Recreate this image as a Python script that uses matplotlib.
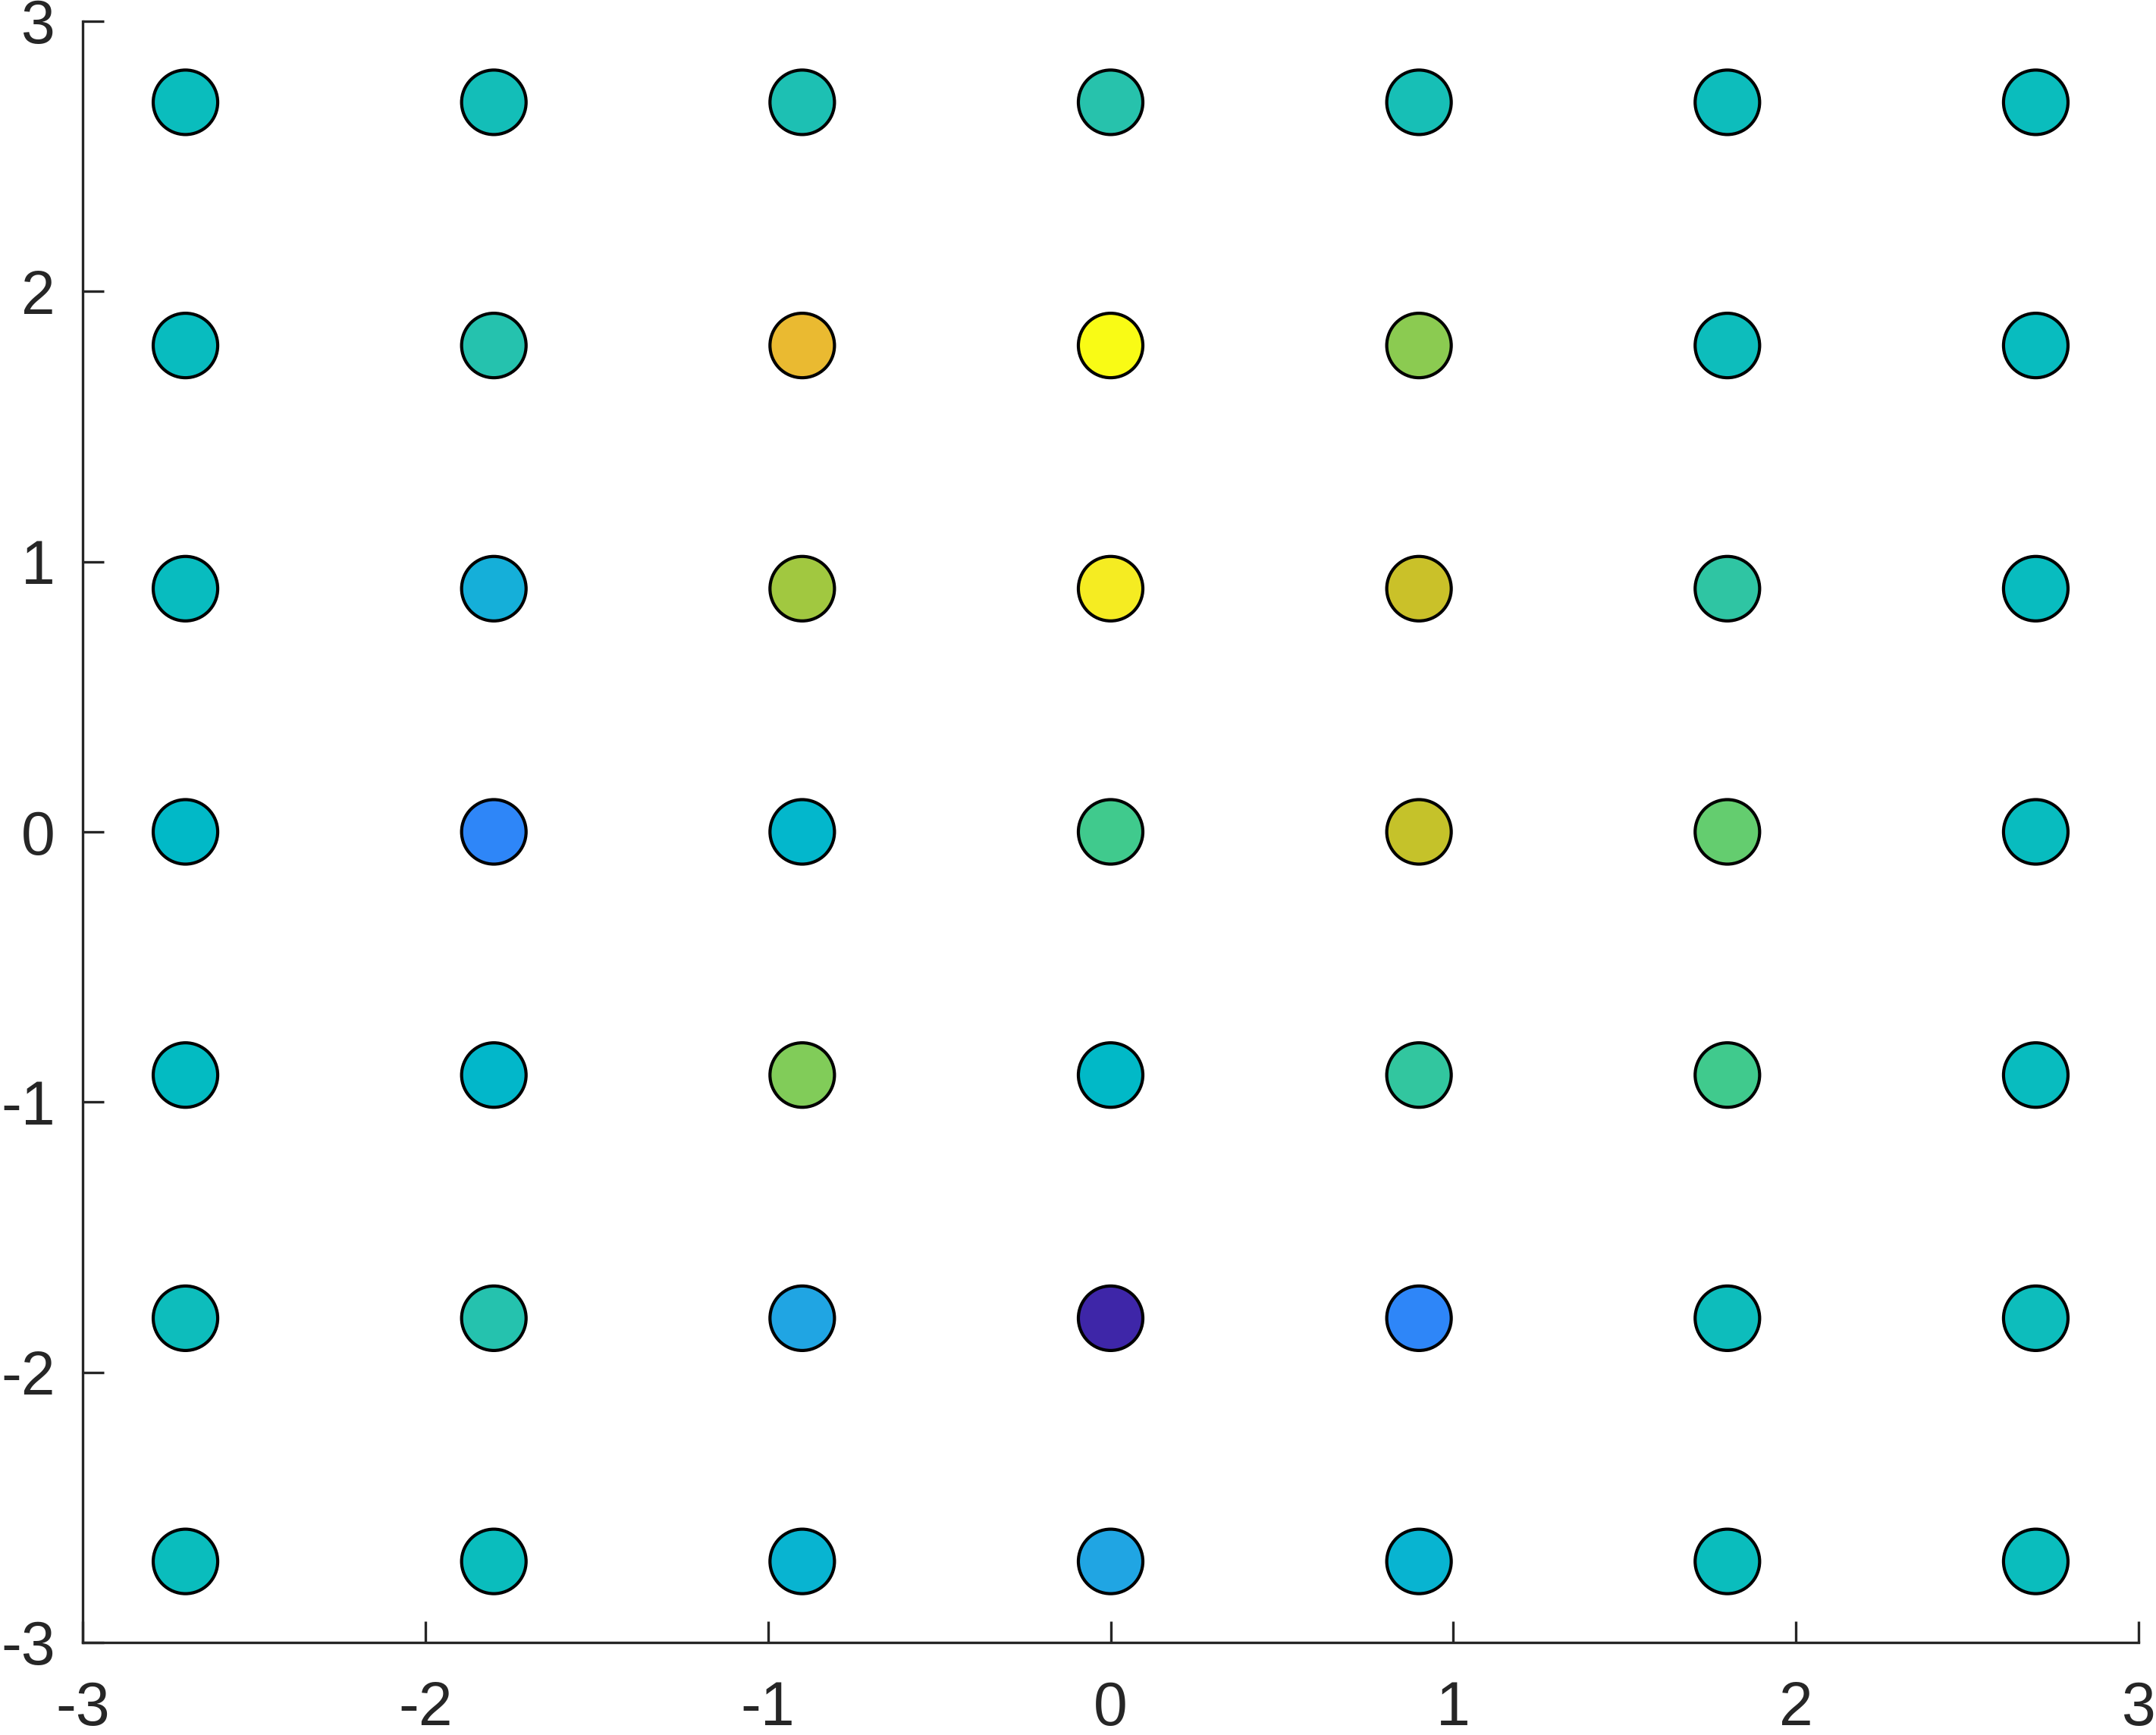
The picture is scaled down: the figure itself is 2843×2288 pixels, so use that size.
import matplotlib
matplotlib.use('Agg')
import matplotlib.pyplot as plt
import numpy as np
from matplotlib.colors import LinearSegmentedColormap

# MATLAB parula(64)
parula_64 = [
    [0.2422, 0.1504, 0.6603], [0.2504, 0.1650, 0.7076], [0.2578, 0.1818, 0.7511],
    [0.2647, 0.1978, 0.7952], [0.2706, 0.2147, 0.8364], [0.2751, 0.2342, 0.8710],
    [0.2783, 0.2559, 0.8991], [0.2803, 0.2782, 0.9221], [0.2813, 0.3006, 0.9414],
    [0.2810, 0.3228, 0.9579], [0.2795, 0.3447, 0.9717], [0.2760, 0.3667, 0.9829],
    [0.2699, 0.3892, 0.9906], [0.2602, 0.4123, 0.9952], [0.2440, 0.4358, 0.9988],
    [0.2206, 0.4603, 0.9973], [0.1963, 0.4847, 0.9892], [0.1834, 0.5074, 0.9798],
    [0.1786, 0.5289, 0.9682], [0.1764, 0.5499, 0.9520], [0.1687, 0.5703, 0.9359],
    [0.1540, 0.5902, 0.9218], [0.1460, 0.6091, 0.9079], [0.1380, 0.6276, 0.8973],
    [0.1248, 0.6459, 0.8883], [0.1113, 0.6635, 0.8763], [0.0952, 0.6798, 0.8598],
    [0.0689, 0.6948, 0.8394], [0.0297, 0.7082, 0.8163], [0.0036, 0.7203, 0.7917],
    [0.0067, 0.7312, 0.7660], [0.0433, 0.7411, 0.7394], [0.0964, 0.7500, 0.7120],
    [0.1408, 0.7584, 0.6842], [0.1717, 0.7670, 0.6554], [0.1938, 0.7758, 0.6251],
    [0.2161, 0.7843, 0.5923], [0.2470, 0.7918, 0.5567], [0.2906, 0.7973, 0.5188],
    [0.3406, 0.8008, 0.4789], [0.3909, 0.8029, 0.4354], [0.4456, 0.8024, 0.3909],
    [0.5044, 0.7993, 0.3480], [0.5616, 0.7942, 0.3045], [0.6174, 0.7876, 0.2612],
    [0.6720, 0.7793, 0.2227], [0.7242, 0.7698, 0.1910], [0.7738, 0.7598, 0.1646],
    [0.8203, 0.7498, 0.1535], [0.8634, 0.7406, 0.1596], [0.9035, 0.7330, 0.1774],
    [0.9393, 0.7288, 0.2100], [0.9728, 0.7298, 0.2394], [0.9956, 0.7434, 0.2371],
    [0.9970, 0.7659, 0.2199], [0.9952, 0.7893, 0.2028], [0.9892, 0.8136, 0.1885],
    [0.9786, 0.8386, 0.1766], [0.9676, 0.8639, 0.1643], [0.9610, 0.8890, 0.1537],
    [0.9597, 0.9135, 0.1423], [0.9628, 0.9373, 0.1265], [0.9691, 0.9606, 0.1064],
    [0.9769, 0.9839, 0.0805]]
parula = LinearSegmentedColormap.from_list('parula', parula_64, N=256)

# grid positions
x_vals = [-2.7, -1.8, -0.9, 0.0, 0.9, 1.8, 2.7]
y_vals = [2.7, 1.8, 0.9, 0.0, -0.9, -1.8, -2.7]

# values per row (top row first)
z_y27 = [0.49, 0.50, 0.515, 0.53, 0.505, 0.495, 0.49]
z_y18 = [0.485, 0.525, 0.80, 1.00, 0.677, 0.495, 0.485]
z_y09 = [0.485, 0.42, 0.703, 0.96, 0.75, 0.548, 0.485]
z_y00 = [0.465, 0.283, 0.455, 0.587, 0.745, 0.635, 0.485]
z_ym09 = [0.48, 0.46, 0.667, 0.465, 0.555, 0.587, 0.485]
z_ym18 = [0.495, 0.525, 0.38, 0.0, 0.283, 0.495, 0.495]
z_ym27 = [0.49, 0.49, 0.445, 0.38, 0.445, 0.49, 0.49]

z_rows = [z_y27, z_y18, z_y09, z_y00, z_ym09, z_ym18, z_ym27]
X, Y = np.meshgrid(x_vals, y_vals)
Z = np.array(z_rows)

plt.rcParams['font.family'] = ['Liberation Sans', 'DejaVu Sans']
plt.rcParams['axes.unicode_minus'] = False

fig = plt.figure(figsize=(28.43, 22.88), dpi=100)
ax = fig.add_axes([109 / 2843, 1 - 2166 / 2288, (2820 - 109) / 2843, (2166 - 28) / 2288])

ax.scatter(X.ravel(), Y.ravel(), c=Z.ravel(), cmap=parula, vmin=0, vmax=1,
           s=3750, edgecolors='k', linewidths=3.0, zorder=3)

ax.set_xlim(-3, 3)
ax.set_ylim(-3, 3)
ax.set_xticks(np.arange(-3, 4, 1))
ax.set_yticks(np.arange(-3, 4, 1))

axis_col = '#262626'
for side in ['top', 'right']:
    ax.spines[side].set_visible(False)
for side in ['left', 'bottom']:
    ax.spines[side].set_color(axis_col)
    ax.spines[side].set_linewidth(2.4)

ax.tick_params(direction='in', length=20, width=2.4, color=axis_col,
               labelcolor=axis_col, labelsize=58)
ax.tick_params(axis='y', pad=26)
ax.tick_params(axis='x', pad=36)

plt.savefig('out.png', dpi=100)
